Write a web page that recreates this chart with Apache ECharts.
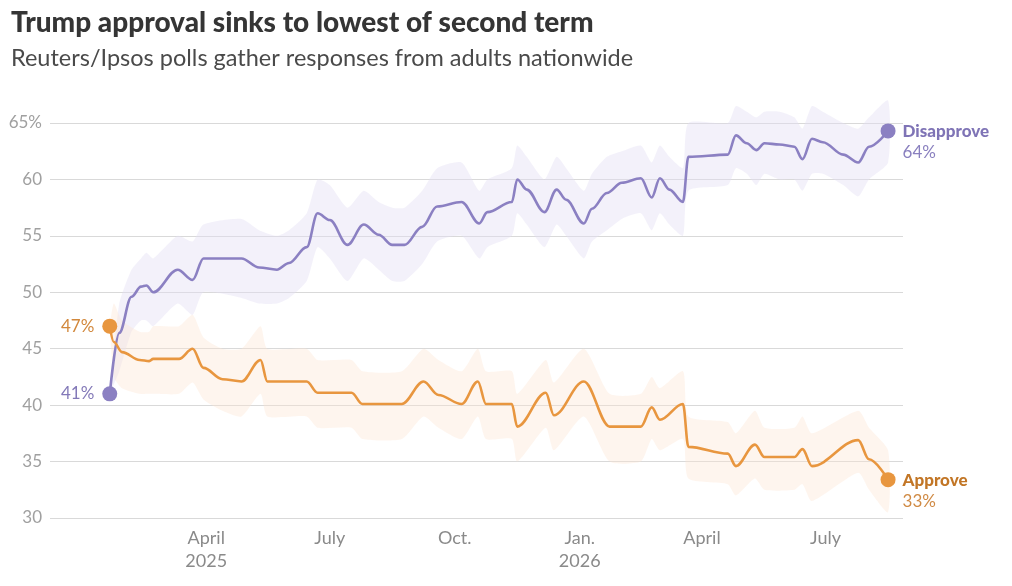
<!DOCTYPE html>
<html>
<head>
<meta charset="utf-8">
<title>Trump approval</title>
<script src="https://cdn.jsdelivr.net/npm/echarts@6/dist/echarts.min.js"></script>
<style>
  html, body { margin: 0; padding: 0; background: #fff; }
  #chart { width: 1012px; height: 586px; }
</style>
</head>
<body>
<div id="chart"></div>
<script>
// poll dates (Reuters/Ipsos)
var dDates = ['2025-01-20','2025-01-27','2025-02-05','2025-02-12','2025-02-16','2025-02-21','2025-03-11','2025-03-22','2025-03-30','2025-04-27',
  '2025-05-10','2025-05-23','2025-06-01','2025-06-14','2025-06-22','2025-07-01','2025-07-14','2025-07-26','2025-08-06','2025-08-16',
  '2025-08-25','2025-09-07','2025-09-18','2025-10-06','2025-10-19','2025-10-25','2025-11-12','2025-11-16','2025-11-23','2025-12-06',
  '2025-12-15','2025-12-22','2026-01-04','2026-01-10','2026-01-21','2026-02-01','2026-02-15','2026-02-23','2026-03-01','2026-03-08',
  '2026-03-18','2026-03-22','2026-04-20','2026-04-26','2026-05-04','2026-05-11','2026-05-17','2026-05-28','2026-06-08','2026-06-14',
  '2026-06-21','2026-06-29','2026-07-14','2026-07-25','2026-08-02','2026-08-16'];
var disapprove = [41, 46.4, 49.6, 50.5, 50.6, 50.0, 52, 51.1, 53, 53,
  52.2, 52, 52.6, 54, 57, 56.4, 54.2, 56, 55.1, 54.2,
  54.2, 55.8, 57.6, 58, 56.1, 57.1, 58, 60, 59.1, 57.1,
  59.1, 58.2, 56.1, 57.4, 58.8, 59.7, 60.1, 58.4, 60.1, 59.1,
  58, 62, 62.2, 63.9, 63.2, 62.6, 63.2, 63.1, 62.9, 61.8,
  63.6, 63.3, 62.2, 61.5, 62.9, 64.3];
var disHigh = [41, 49, 52, 53, 53.5, 53, 55, 54.5, 56, 56.5,
  55.5, 55, 55.5, 57, 60, 59.5, 57.5, 59, 58, 57.5,
  57.5, 59, 61, 61.5, 59, 60, 61, 63, 62, 60,
  62, 61, 59, 60.5, 62, 62.5, 63, 61.5, 63, 62,
  61, 65, 65, 66.5, 66, 65.5, 66, 66, 65.5, 64.5,
  66.5, 66, 65, 64.5, 65.5, 67];
var disLow = [41, 43, 46.5, 47.5, 47.5, 47, 49, 48, 50, 49.5,
  49, 49, 49.5, 51, 54, 53, 51, 53, 52, 51,
  51, 52.5, 54.5, 55, 53, 54, 55, 57, 56, 54,
  56, 55, 53, 54.5, 55.5, 56.5, 57, 55.5, 57, 56,
  55, 59, 59.5, 61, 60.5, 59.5, 60.5, 60, 60, 59,
  60.5, 60.5, 59.5, 58.5, 60, 61.5];

var aDates = ['2025-01-20','2025-01-23','2025-01-29','2025-02-11','2025-02-18','2025-02-21','2025-03-12','2025-03-22','2025-03-30','2025-04-13',
  '2025-04-27','2025-05-11','2025-05-16','2025-06-14','2025-06-22','2025-07-17','2025-07-25','2025-08-23','2025-09-08','2025-09-19',
  '2025-10-06','2025-10-18','2025-10-24','2025-11-12','2025-11-16','2025-12-07','2025-12-13','2026-01-04','2026-01-23','2026-02-15',
  '2026-02-23','2026-03-01','2026-03-18','2026-03-22','2026-04-20','2026-04-26','2026-05-10','2026-05-17','2026-06-08','2026-06-14',
  '2026-06-21','2026-07-25','2026-08-02','2026-08-16'];
var approve = [47, 45.6, 44.7, 44, 43.9, 44.1, 44.1, 45, 43.3, 42.3,
  42.1, 44, 42.1, 42.1, 41.1, 41.1, 40.1, 40.1, 42.1, 40.9,
  40.1, 42.1, 40.1, 40.1, 38.1, 41.1, 39.1, 42.1, 38.1, 38.1,
  39.8, 38.7, 40.1, 36.3, 35.7, 34.6, 36.5, 35.4, 35.4, 36.1,
  34.6, 36.9, 35.2, 33.4];
var appHigh = [47, 49, 47.5, 46.5, 46.5, 47, 47, 48, 46, 45,
  45, 47, 45, 45, 44, 44, 43, 43, 45, 44,
  43, 45, 43, 43, 41, 44, 42, 45, 41, 41,
  42.5, 41.5, 43, 39, 38.5, 37.5, 39.5, 38, 38, 39,
  37.5, 39.5, 38, 36];
var appLow = [47, 42.5, 41.5, 41, 41, 41, 41, 42, 40.5, 39.5,
  39, 41, 39, 39, 38, 38, 37, 37, 39, 38,
  37, 39, 37, 37, 35, 38, 36, 39, 35, 35,
  37, 36, 37, 33.5, 33, 32, 33.5, 32.5, 32.5, 33,
  31.5, 34, 32.5, 30.5];

var xTickDates = ['2025-04-01','2025-07-01','2025-10-01','2026-01-01','2026-04-01','2026-07-01'];
var xTickLabels = ['April\n2025','July','Oct.','Jan.\n2026','April','July'];
var yTicks = [30, 35, 40, 45, 50, 55, 60, 65];

var PURPLE = '#8b80c2', ORANGE = '#e8963f';

function ts(d) {
  var p = d.split('-');
  return Date.UTC(+p[0], +p[1] - 1, +p[2]);
}
function pairs(dates, vals) {
  return dates.map(function (d, i) { return [ts(d), vals[i]]; });
}
function lastOf(a) { return a[a.length - 1]; }

// margin-of-error band as one polygon, positioned through the axes
function band(dates, hi, lo, color) {
  return {
    type: 'custom',
    silent: true,
    z: 1,
    data: [0],
    renderItem: function (params, api) {
      var pts = [];
      for (var i = 0; i < dates.length; i++) pts.push(api.coord([ts(dates[i]), hi[i]]));
      for (var j = dates.length - 1; j >= 0; j--) pts.push(api.coord([ts(dates[j]), lo[j]]));
      return { type: 'polygon', shape: { points: pts, smooth: 0.2 }, style: { fill: color } };
    }
  };
}

var tickTs = xTickDates.map(ts);

var chart = echarts.init(document.getElementById('chart'));
var option = {
  backgroundColor: '#fff',
  animation: false,
  textStyle: { fontFamily: 'Lato' },
  title: {
    text: 'Trump approval sinks to lowest of second term',
    subtext: 'Reuters/Ipsos polls gather responses from adults nationwide',
    left: 6,
    top: 4,
    itemGap: 9,
    textStyle: { fontFamily: 'Lato', fontWeight: 900, fontSize: 28, color: '#353535' },
    subtextStyle: { fontFamily: 'Lato', fontSize: 23.5, color: '#4a4a4a' }
  },
  grid: { left: 50, right: 109, top: 123, bottom: 68 },
  xAxis: {
    type: 'value',
    min: ts('2024-12-07'),
    max: ts('2026-08-27'),
    axisLine: { show: false },
    axisTick: { show: false },
    splitLine: { show: false },
    axisLabel: {
      customValues: tickTs,
      formatter: function (v) {
        var i = tickTs.indexOf(v);
        return i >= 0 ? xTickLabels[i] : '';
      },
      color: '#8a8a8a',
      fontSize: 18,
      lineHeight: 23,
      margin: 9
    }
  },
  yAxis: {
    type: 'value',
    min: yTicks[0],
    max: lastOf(yTicks),
    interval: 5,
    axisLine: { show: false },
    axisTick: { show: false },
    splitLine: { lineStyle: { color: '#d9d9d9', width: 1.2 } },
    axisLabel: {
      color: '#a0a0a0',
      fontSize: 17,
      margin: 8,
      formatter: function (v) { return v === lastOf(yTicks) ? v + '%' : String(v); }
    }
  },
  series: [
    band(dDates, disHigh, disLow, 'rgba(226,222,244,0.42)'),
    band(aDates, appHigh, appLow, 'rgba(253,230,210,0.38)'),
    // main lines
    { name: 'Disapprove', type: 'line', data: pairs(dDates, disapprove), symbol: 'none',
      smooth: 0.35, smoothMonotone: 'x', lineStyle: { color: PURPLE, width: 2.6 }, z: 3 },
    { name: 'Approve', type: 'line', data: pairs(aDates, approve), symbol: 'none',
      smooth: 0.35, smoothMonotone: 'x', lineStyle: { color: ORANGE, width: 2.6 }, z: 3 },
    // end dots and labels
    { type: 'scatter', symbolSize: 15, z: 5,
      itemStyle: { color: PURPLE, opacity: 1 },
      data: [
        { value: [ts(dDates[0]), disapprove[0]],
          label: { show: true, position: 'left', distance: 8, formatter: '41%', color: '#8379b8', fontSize: 17 } },
        { value: [ts(lastOf(dDates)), lastOf(disapprove)],
          label: { show: true, position: 'right', distance: 7, align: 'left', verticalAlign: 'top', offset: [0, -10],
            formatter: '{b|Disapprove}\n{v|64%}',
            rich: { b: { fontWeight: 900, fontSize: 17, color: '#7f74b6', lineHeight: 21 },
                    v: { fontSize: 17, color: '#8a80bf', lineHeight: 21 } } } }
      ] },
    { type: 'scatter', symbolSize: 15, z: 5,
      itemStyle: { color: ORANGE, opacity: 1 },
      data: [
        { value: [ts(aDates[0]), approve[0]],
          label: { show: true, position: 'left', distance: 8, formatter: '47%', color: '#d2883c', fontSize: 17 } },
        { value: [ts(lastOf(aDates)), lastOf(approve)],
          label: { show: true, position: 'right', distance: 7, align: 'left', verticalAlign: 'top', offset: [0, -10],
            formatter: '{b|Approve}\n{v|33%}',
            rich: { b: { fontWeight: 900, fontSize: 17, color: '#c27626', lineHeight: 21 },
                    v: { fontSize: 17, color: '#d08a44', lineHeight: 21 } } } }
      ] }
  ]
};
chart.setOption(option);
</script>
</body>
</html>
